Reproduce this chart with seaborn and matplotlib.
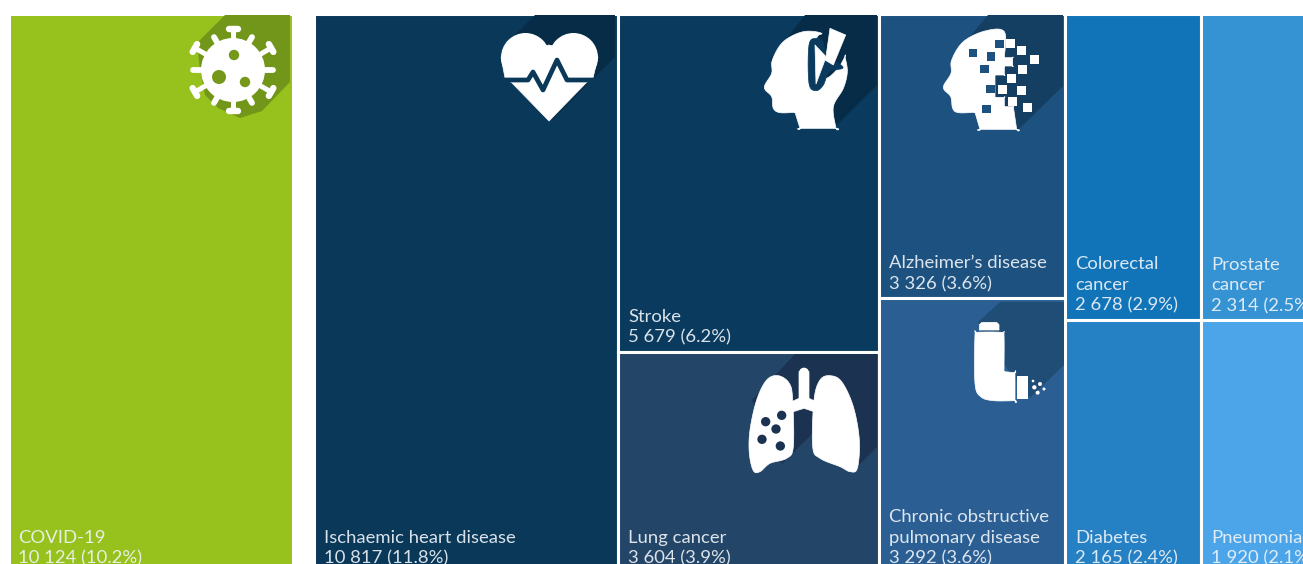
import numpy as np
import pandas as pd
import seaborn as sns
import matplotlib
matplotlib.use('Agg')
import matplotlib.pyplot as plt
from matplotlib.patches import Polygon, Circle

# values
categories = ['COVID-19', 'Ischaemic heart disease', 'Stroke', 'Lung cancer',
              "Alzheimer\u2019s disease", 'Chronic obstructive pulmonary disease',
              'Colorectal cancer', 'Diabetes', 'Prostate cancer', 'Pneumonia']
deaths = [10124, 10817, 5679, 3604, 3326, 3292, 2678, 2165, 2314, 1920]
shares = [10.2, 11.8, 6.2, 3.9, 3.6, 3.6, 2.9, 2.4, 2.5, 2.1]
column = [0, 1, 2, 2, 3, 3, 4, 4, 5, 5]
label_names = ['COVID-19', 'Ischaemic heart disease', 'Stroke', 'Lung cancer',
               "Alzheimer\u2019s disease", 'Chronic obstructive\npulmonary disease',
               'Colorectal\ncancer', 'Diabetes', 'Prostate\ncancer', 'Pneumonia']

colors = ['#97C11C', '#0A3859', '#0A3B5E', '#234568', '#1D517F',
          '#2B5F93', '#1274B8', '#2581C4', '#3592D3', '#4BA5E8']

# layout
left = 8.5
top = 13.5
px_per_death = 0.0281
group_gap = 21.5
column_span = [560, 560, 553, 566, 554, 561]
text_bottom = 571
text_col = '#F1F5F9'
white = '#FFFFFF'

df = pd.DataFrame({'disease': categories, 'deaths': deaths, 'share': shares, 'col': column})
totals = df.groupby('col')['deaths'].sum().values
widths = totals * px_per_death

edges = [left, left + widths[0], left + widths[0] + group_gap]
for w in widths[1:]:
    edges.append(edges[-1] + w)
col_left = [edges[0]] + edges[2:-1]
col_right = [edges[1]] + edges[3:]

df['x'] = [(col_left[c] + col_right[c]) / 2 for c in df['col']]
df['height'] = [d / totals[c] * column_span[c] for d, c in zip(df['deaths'], df['col'])]

sns.set_theme(style='white')
plt.rcParams['font.family'] = ['Lato', 'DejaVu Sans']
fig = plt.figure(figsize=(13.03, 5.64), dpi=100)
ax = fig.add_axes([0, 0, 1, 1])
sns.histplot(data=df, x='x', weights='height', hue='disease', hue_order=categories[::-1],
             palette=dict(zip(categories, colors)), bins=edges, multiple='stack',
             shrink=1, alpha=1, edgecolor=white, linewidth=2.2, legend=False, ax=ax)
ax.set_xlim(0, 1303)
ax.set_ylim(564 - top, -top)
ax.axis('off')

# overlay in picture pixels, for labels and icons
ov = fig.add_axes([0, 0, 1, 1], zorder=5)
ov.set_xlim(0, 1303)
ov.set_ylim(564, 0)
ov.axis('off')
ov.patch.set_alpha(0)

# labels sit on the lower edge of their box
for c in range(6):
    sub = df[df['col'] == c]
    y0 = top
    for i, row in sub.iterrows():
        y1 = y0 + row['height']
        base = text_bottom if row.name == sub.index[-1] else y1 - 1.5
        value = f"{row['deaths']:,}".replace(',', ' ')
        txt = f"{label_names[i]}\n{value} ({row['share']}%)"
        ov.text(col_left[c] + 9.5, base - 4.5, txt, color=text_col, alpha=0.9, fontsize=13.3, weight='normal',
                va='bottom', ha='left', linespacing=1.36)
        y0 = y1


def shape(pts, color=white, ox=0, oy=0, z=3, lw=0.5):
    pts = [(ox + x / 3, oy + y / 3) for x, y in pts]
    ov.add_patch(Polygon(pts, closed=True, fc=color, ec=color, lw=lw, zorder=z, joinstyle='round'))


def smooth(pts, n=8):
    # closed catmull-rom through the points, a repeated point makes a corner
    p = np.array(pts, dtype=float)
    out = []
    m = len(p)
    for i in range(m):
        p0, p1, p2, p3 = p[i - 1], p[i], p[(i + 1) % m], p[(i + 2) % m]
        for t in np.linspace(0, 1, n, endpoint=False):
            out.append(0.5 * (2 * p1 + (p2 - p0) * t + (2 * p0 - 5 * p1 + 4 * p2 - p3) * t ** 2
                              + (3 * p1 - p0 - 3 * p2 + p3) * t ** 3))
    return out


def dot(x, y, r, color=white, ox=0, oy=0, z=4):
    ov.add_patch(Circle((ox + x / 3, oy + y / 3), r / 3, fc=color, ec='none', zorder=z))


def square(x0, y0, x1, y1, color, ox, oy, z=4):
    shape([(x0, y0), (x1, y0), (x1, y1), (x0, y1)], color, ox, oy, z, lw=0)


# long shadows behind the icons
shadows = [
    ([(225, 15), (290, 15), (290, 82), (262, 111), (240, 118), (218, 108), (205, 95), (200, 70), (197, 43)], '#72961A'),
    ([(535, 15), (615, 15), (615, 57), (552, 120), (505, 45)], '#072C47'),
    ([(805, 15), (877, 15), (877, 85), (836, 126), (770, 60)], '#062C47'),
    ([(795, 354), (877, 354), (877, 447), (852, 472), (835, 465), (813, 433), (782, 464), (752, 400)], '#1B3250'),
    ([(988, 15), (1063, 15), (1063, 86), (1017, 131), (950, 60)], '#153F62'),
    ([(1000, 302), (1064, 302), (1064, 365), (1030, 398), (985, 340), (978, 322)], '#204D75'),
]
for pts, col in shadows:
    ov.add_patch(Polygon(pts, closed=True, fc=col, ec='none', zorder=1))

# virus
cx, cy = 233, 70
ov.add_patch(Circle((cx, cy), 32, fc=white, ec='none', zorder=3))
spike_len = {0: 41, 6: 41, 3: 40, 9: 40, 2: 44, 4: 44, 8: 44, 10: 44}
for k in range(12):
    a = np.deg2rad(k * 30)
    ux, uy = np.sin(a), -np.cos(a)
    r = spike_len.get(k, 38)
    ov.plot([cx + 28 * ux, cx + r * ux], [cy + 28 * uy, cy + r * uy], color=white,
            lw=3.6 if k % 2 == 0 else 4.2, solid_capstyle='round', zorder=3)
    if k % 2 == 0 and k not in (3, 9):
        ov.plot([cx + r * ux - 4.5 * uy, cx + r * ux + 4.5 * uy],
                [cy + r * uy + 4.5 * ux, cy + r * uy - 4.5 * ux], color=white, lw=4.6,
                solid_capstyle='round', zorder=3)
for hx, hy, hr in [(234, 55, 5.2), (219, 77, 7), (245, 82, 5.2)]:
    ov.add_patch(Circle((hx, hy), hr, fc='#75971A', ec='none', zorder=4))

# heart
for hx in (525.5, 573.5):
    ov.add_patch(Circle((hx, 57.5), 24.5, fc=white, ec='none', zorder=3))
ov.add_patch(Polygon([(501, 57), (505, 78), (512, 83), (549, 121), (586, 83), (593, 78), (598, 57), (549, 45)],
                     closed=True, fc=white, ec=white, lw=0.5, zorder=3))
ov.plot([498, 528, 533, 543, 557, 567, 600], [80, 80, 72, 90, 60, 80, 80], color='#0A3859', lw=3.4,
        solid_joinstyle='round', zorder=4)

# head with the bolt (zoom units)
head = [(245, 100), (190, 95), (130, 125), (97, 180), (95, 220), (73, 262), (95, 290), (100, 325),
        (120, 338), (165, 337), (165, 337), (180, 385), (180, 385), (288, 385), (288, 385), (280, 320), (310, 265),
        (322, 215), (315, 170), (315, 170), (290, 210), (250, 230), (230, 120)]
shape(smooth(head), white, 740, 0)
shape(smooth([(207, 135), (228, 115), (248, 125), (262, 175), (295, 190), (308, 205), (268, 215), (250, 255),
              (228, 272), (207, 250)]), '#0A3B5E', 740, 0, z=4)
shape([(270, 85), (317, 105), (280, 195), (255, 180), (228, 252), (225, 135), (258, 170)], white, 740, 0, z=5)

# pixel head
head2 = [(793, 95), (735, 93), (670, 125), (635, 180), (633, 220), (610, 262), (632, 290), (638, 325), (655, 338),
         (705, 337), (705, 337), (720, 388), (720, 388), (830, 388), (830, 388), (820, 320), (820, 320), (793, 320),
         (793, 320), (793, 292), (793, 292), (765, 292), (765, 292), (765, 225), (765, 225), (793, 225), (793, 225),
         (793, 198), (793, 198), (818, 198), (818, 198), (818, 173), (818, 173), (793, 173), (793, 173)]
shape(smooth(head2), white, 740, 0)
for sq in [(686, 147, 712, 172), (740, 157, 766, 183), (720, 194, 746, 218), (738, 254, 765, 280),
           (727, 314, 753, 340), (765, 120, 793, 145)]:
    square(*sq, '#1D517F', 740, 0)
for sq in [(798, 117, 825, 143), (830, 138, 858, 164), (870, 165, 896, 191), (834, 195, 861, 221),
           (801, 222, 828, 248), (773, 255, 801, 281), (831, 258, 858, 284), (804, 291, 831, 317),
           (849, 309, 876, 335)]:
    square(*sq, white, 740, 0)

# lungs
shape(smooth([(115, 227), (80, 240), (50, 300), (30, 390), (28, 460), (40, 512), (60, 515), (90, 490), (140, 475),
              (160, 440), (158, 300), (148, 250)]), white, 740, 300)
shape(smooth([(270, 227), (240, 240), (222, 300), (218, 440), (240, 475), (300, 500), (330, 515), (352, 505),
              (358, 420), (340, 320), (305, 245)]), white, 740, 300)
shape([(177, 215), (207, 215), (207, 295), (228, 305), (222, 335), (192, 325), (160, 335), (155, 305), (177, 295)],
      white, 740, 300)
dot(192, 218, 15, white, 740, 300)
for dx, dy, dr in [(77, 365, 14), (125, 346, 14), (108, 387, 14), (66, 418, 14), (121, 438, 14)]:
    dot(dx, dy, dr, '#1B3250', 740, 300)

# inhaler
shape([(726, 67), (770, 67), (777, 74), (777, 90), (718, 90), (718, 74)], white, 740, 300)
shape(smooth([(705, 105), (713, 97), (785, 97), (792, 105), (792, 215), (792, 215), (825, 218), (825, 218), (825, 302),
              (825, 302), (760, 302), (722, 290), (705, 250)]), white, 740, 300)
square(831, 228, 865, 297, white, 740, 300)
for dx, dy, dr in [(879, 243, 4), (900, 252, 6), (883, 262, 6.5), (912, 267, 4.5), (893, 278, 6)]:
    dot(dx, dy, dr, white, 740, 300)

plt.savefig('out.png', dpi=100, facecolor='white')
